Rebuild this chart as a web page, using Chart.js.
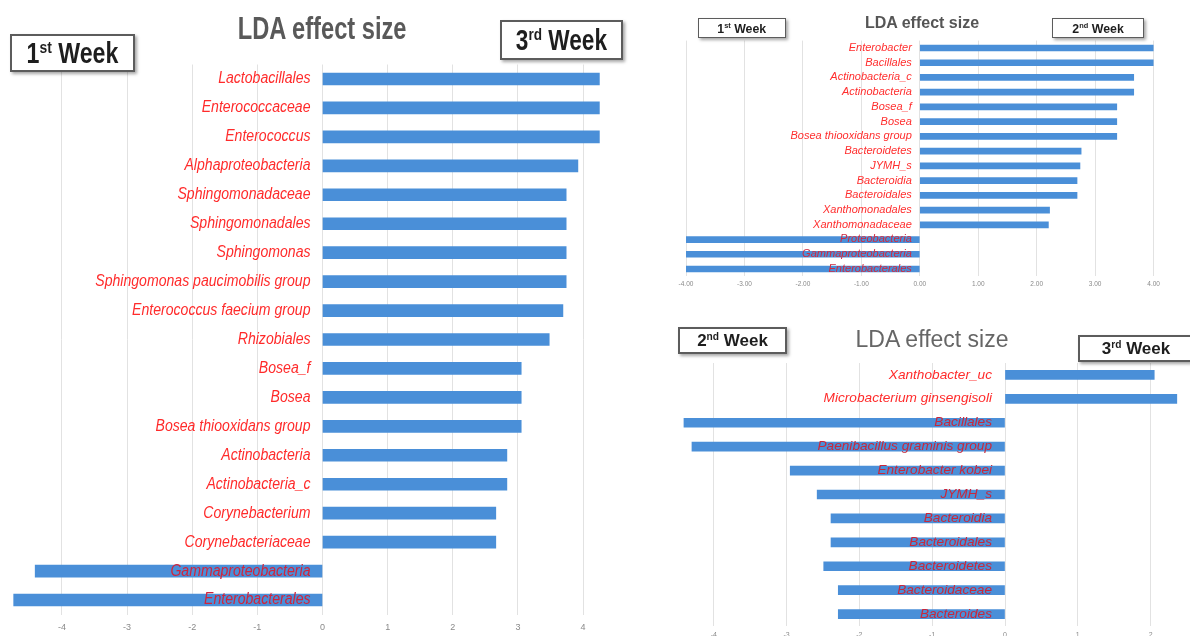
<!DOCTYPE html>
<html><head><meta charset="utf-8">
<script src="https://cdn.jsdelivr.net/npm/chart.js@4.4.0/dist/chart.umd.min.js"></script>
<style>
html,body{margin:0;padding:0;background:#fff;width:1190px;height:636px;overflow:hidden;position:relative;font-family:"Liberation Sans",Arial,sans-serif}
canvas{position:absolute}
.box{position:absolute;border:2px solid #5c5c5c;box-shadow:2px 2px 3px rgba(0,0,0,0.35);background:#fff;box-sizing:border-box;display:flex;align-items:center;justify-content:center;color:#1e1e1e;white-space:nowrap;overflow:visible}
.t{display:inline-block;white-space:nowrap}
.title{position:absolute;color:#595959;white-space:nowrap;display:flex;justify-content:center;align-items:center}
sup{font-size:0.6em;vertical-align:0;position:relative;top:-0.55em}
</style></head><body>

<canvas id="cL" width="650" height="636" style="left:0;top:0;width:650px;height:636px"></canvas>
<canvas id="cTR" width="500" height="300" style="left:670px;top:0;width:500px;height:300px"></canvas>
<canvas id="cBR" width="530" height="345" style="left:660px;top:300px;width:530px;height:345px"></canvas>

<!-- left panel texts -->
<div class="title" style="left:172px;top:10px;width:300px;height:36px;"><span class="t" style="font-size:32px;font-weight:bold;transform:scaleX(0.74)">LDA effect size</span></div>
<div class="box" style="left:10px;top:34px;width:125px;height:38px;"><span class="t" style="font-size:29px;font-weight:bold;transform:scaleX(0.8)">1<sup>st</sup> Week</span></div>
<div class="box" style="left:500px;top:20px;width:123px;height:40px;"><span class="t" style="font-size:29px;font-weight:bold;transform:scaleX(0.78)">3<sup>rd</sup> Week</span></div>

<!-- top-right panel texts -->
<div class="title" style="left:822px;top:13px;width:200px;height:20px;color:#555"><span class="t" style="font-size:16px;font-weight:bold">LDA effect size</span></div>
<div class="box" style="left:698px;top:18px;width:88px;height:20px;border-width:1.5px"><span class="t" style="font-size:13px;font-weight:bold;transform:scaleX(0.95)">1<sup>st</sup> Week</span></div>
<div class="box" style="left:1052px;top:18px;width:92px;height:20px;border-width:1.5px"><span class="t" style="font-size:13px;font-weight:bold;transform:scaleX(0.95)">2<sup>nd</sup> Week</span></div>

<!-- bottom-right panel texts -->
<div class="title" style="left:832px;top:325px;width:200px;height:28px;color:#666"><span class="t" style="font-size:23px">LDA effect size</span></div>
<div class="box" style="left:678px;top:327px;width:109px;height:27px;"><span class="t" style="font-size:17px;font-weight:bold">2<sup>nd</sup> Week</span></div>
<div class="box" style="left:1078px;top:335px;width:116px;height:27px;"><span class="t" style="font-size:17px;font-weight:bold">3<sup>rd</sup> Week</span></div>

<script>
// ---- Left panel: 1st vs 3rd week ----
const leftCategories = ['Lactobacillales','Enterococcaceae','Enterococcus','Alphaproteobacteria','Sphingomonadaceae','Sphingomonadales','Sphingomonas','Sphingomonas paucimobilis group','Enterococcus faecium group','Rhizobiales','Bosea_f','Bosea','Bosea thiooxidans group','Actinobacteria','Actinobacteria_c','Corynebacterium','Corynebacteriaceae','Gammaproteobacteria','Enterobacterales'];
const leftValues = [4.25,4.25,4.25,3.92,3.74,3.74,3.74,3.74,3.69,3.48,3.05,3.05,3.05,2.83,2.83,2.66,2.66,-4.41,-4.74];
const leftTicks = [-4,-3,-2,-1,0,1,2,3,4];

// ---- Top-right panel: 1st vs 2nd week ----
const trCategories = ['Enterobacter','Bacillales','Actinobacteria_c','Actinobacteria','Bosea_f','Bosea','Bosea thiooxidans group','Bacteroidetes','JYMH_s','Bacteroidia','Bacteroidales','Xanthomonadales','Xanthomonadaceae','Proteobacteria','Gammaproteobacteria','Enterobacterales'];
const trValues = [4.0,4.0,3.66,3.66,3.37,3.37,3.37,2.76,2.74,2.69,2.69,2.22,2.20,-4.0,-4.0,-4.0];
const trTicks = [-4,-3,-2,-1,0,1,2,3,4];

// ---- Bottom-right panel: 2nd vs 3rd week ----
const brCategories = ['Xanthobacter_uc','Microbacterium ginsengisoli','Bacillales','Paenibacillus graminis group','Enterobacter kobei','JYMH_s','Bacteroidia','Bacteroidales','Bacteroidetes','Bacteroidaceae','Bacteroides'];
const brValues = [2.05,2.36,-4.41,-4.30,-2.95,-2.58,-2.39,-2.39,-2.49,-2.29,-2.29];
const brTicks = [-4,-3,-2,-1,0,1,2];

const catLabelPlugin = {
  id: 'catLabels',
  afterDatasetsDraw(chart, args, o) {
    const ctx = chart.ctx, xs = chart.scales.x, ys = chart.scales.y;
    const vals = chart.data.datasets[0].data;
    const x0 = xs.getPixelForValue(0);
    ctx.save();
    ctx.font = o.font;
    ctx.textAlign = 'right';
    ctx.textBaseline = 'middle';
    chart.data.labels.forEach((lab, i) => {
      const y = ys.getPixelForValue(i);
      ctx.fillStyle = vals[i] < 0 ? o.negColor : o.color;
      ctx.save();
      ctx.translate(x0 - o.gap, y + (o.dy || 0));
      ctx.scale(o.sx, 1);
      ctx.fillText(lab, 0, 0);
      ctx.restore();
    });
    ctx.restore();
  }
};

function build(id, cats, vals, ticks, o) {
  return new Chart(document.getElementById(id), {
    type: 'bar',
    data: { labels: cats, datasets: [{ data: vals, backgroundColor: '#4a8fd8', barThickness: o.bar, borderWidth: 0 }] },
    options: {
      indexAxis: 'y', responsive: false, animation: false, devicePixelRatio: 1,
      layout: { padding: o.pad },
      plugins: { legend: { display: false }, tooltip: { enabled: false }, catLabels: o.labels },
      scales: {
        x: {
          type: 'linear', min: o.min, max: o.max,
          afterBuildTicks: s => { s.ticks = ticks.map(v => ({ value: v })); },
          afterFit: s => { s.height = o.axisH; },
          grid: { color: '#e2e2e2', drawTicks: false, lineWidth: 1 },
          border: { display: false },
          ticks: { font: { size: o.tickSize, family: 'Liberation Sans' }, color: '#8a8a8a', padding: o.tickPad, callback: o.fmt, maxRotation: 0, autoSkip: false }
        },
        y: { type: 'category', display: false }
      }
    },
    plugins: [catLabelPlugin]
  });
}

build('cL', leftCategories, leftValues, leftTicks, {
  min: -4.95, max: 4.95, bar: 12, axisH: 21.5, tickSize: 9, tickPad: 8,
  pad: { top: 64.5, left: 0, right: 5, bottom: 0 },
  fmt: v => String(v),
  labels: { font: 'italic 16px "Liberation Sans"', sx: 0.88, gap: 12, color: '#ff2b2b', negColor: '#d0243c' }
});

build('cTR', trCategories, trValues, trTicks, {
  min: -4, max: 4, bar: 6, axisH: 12, tickSize: 6.5, tickPad: 4,
  pad: { top: 40.6, left: 16, right: 16.4, bottom: 11.6 },
  fmt: v => v.toFixed(2),
  labels: { font: 'italic 10.5px "Liberation Sans"', sx: 1.05, gap: 8, color: '#ff2e2e', negColor: '#d02a40' }
});

build('cBR', brCategories, brValues, brTicks, {
  min: -4.5, max: 2.5, bar: 9, axisH: 19, tickSize: 7, tickPad: 5,
  pad: { top: 63, left: 17.4, right: 3, bottom: 0 },
  fmt: v => String(v),
  labels: { font: 'italic 13px "Liberation Sans"', sx: 1.05, gap: 13, color: '#ff2b2b', negColor: '#c8283c' }
});
</script>
</body></html>
